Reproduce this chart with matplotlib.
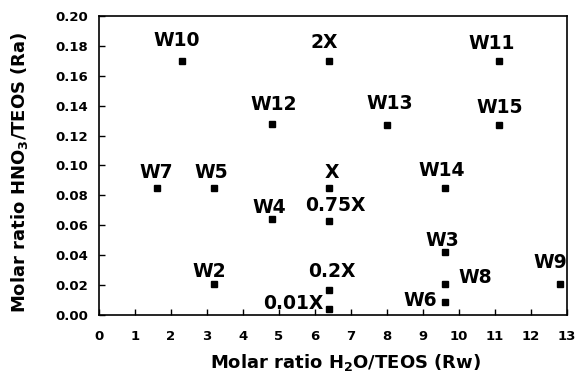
import matplotlib.pyplot as plt

plt.rcParams['font.family'] = ['DejaVu Sans']
plt.rcParams['font.weight'] = 'bold'

names = ["W10", "W12", "W7", "W5", "W4", "W2", "0.01X", "2X", "W11", "W13",
         "W15", "X", "W14", "0.75X", "W3", "0.2X", "W8", "W6", "W9"]
rw = [2.3, 4.8, 1.6, 3.2, 4.8, 3.2, 6.4, 6.4, 11.1, 8.0,
      11.1, 6.4, 9.6, 6.4, 9.6, 6.4, 9.6, 9.6, 12.8]
ra = [0.170, 0.128, 0.085, 0.085, 0.064, 0.021, 0.004, 0.170, 0.170, 0.127,
      0.127, 0.085, 0.085, 0.063, 0.042, 0.017, 0.021, 0.009, 0.021]

# label offsets in pixels (dx, dy) and horizontal alignment
offsets = {
    "W10": (-5, 20, 'center'), "W12": (2, 19, 'center'), "W7": (0, 15, 'center'),
    "W5": (-3, 15, 'center'), "W4": (-3, 12, 'center'), "W2": (-5, 12, 'center'),
    "0.01X": (-6, 6, 'right'), "2X": (-5, 18, 'center'), "W11": (-7, 17, 'center'),
    "W13": (3, 22, 'center'), "W15": (1, 18, 'center'), "X": (2, 15, 'center'),
    "W14": (-3, 17, 'center'), "0.75X": (6, 15, 'center'), "W3": (-2, 12, 'center'),
    "0.2X": (2, 18, 'center'), "W8": (14, 6, 'left'), "W6": (-8, 1, 'right'),
    "W9": (-10, 21, 'center'),
}

fig = plt.figure(figsize=(5.78, 3.77), dpi=100)
ax = fig.add_axes([0.1713, 0.1645, 0.8097, 0.7931])

ax.plot(rw, ra, 's', color='black', markersize=5, linestyle='none')

for n, x, y in zip(names, rw, ra):
    dx, dy, ha = offsets[n]
    ax.annotate(n, (x, y), xytext=(dx, dy), textcoords='offset pixels',
                ha=ha, va='center', fontsize=13.5, fontweight='bold')

ax.set_xlim(0, 13)
ax.set_ylim(0, 0.20)
ax.set_xticks(range(0, 14))
ax.set_yticks([0.00, 0.02, 0.04, 0.06, 0.08, 0.10, 0.12, 0.14, 0.16, 0.18, 0.20])
ax.yaxis.set_major_formatter(plt.FormatStrFormatter('%.2f'))
ax.tick_params(direction='in', length=4, width=1, labelsize=9.5, pad=11)
ax.tick_params(axis='y', pad=8)
for lab in ax.get_xticklabels() + ax.get_yticklabels():
    lab.set_fontweight('bold')
for s in ax.spines.values():
    s.set_linewidth(1.2)

ax.set_xlabel("Molar ratio H$_\\mathbf{2}$O/TEOS (Rw)", fontsize=13, fontweight='bold')
ax.set_ylabel("Molar ratio HNO$_\\mathbf{3}$/TEOS (Ra)", fontsize=13, fontweight='bold')
ax.xaxis.set_label_coords(0.526, -0.125)
ax.yaxis.set_label_coords(-0.147, 0.478)

plt.savefig("out.png", dpi=100)
